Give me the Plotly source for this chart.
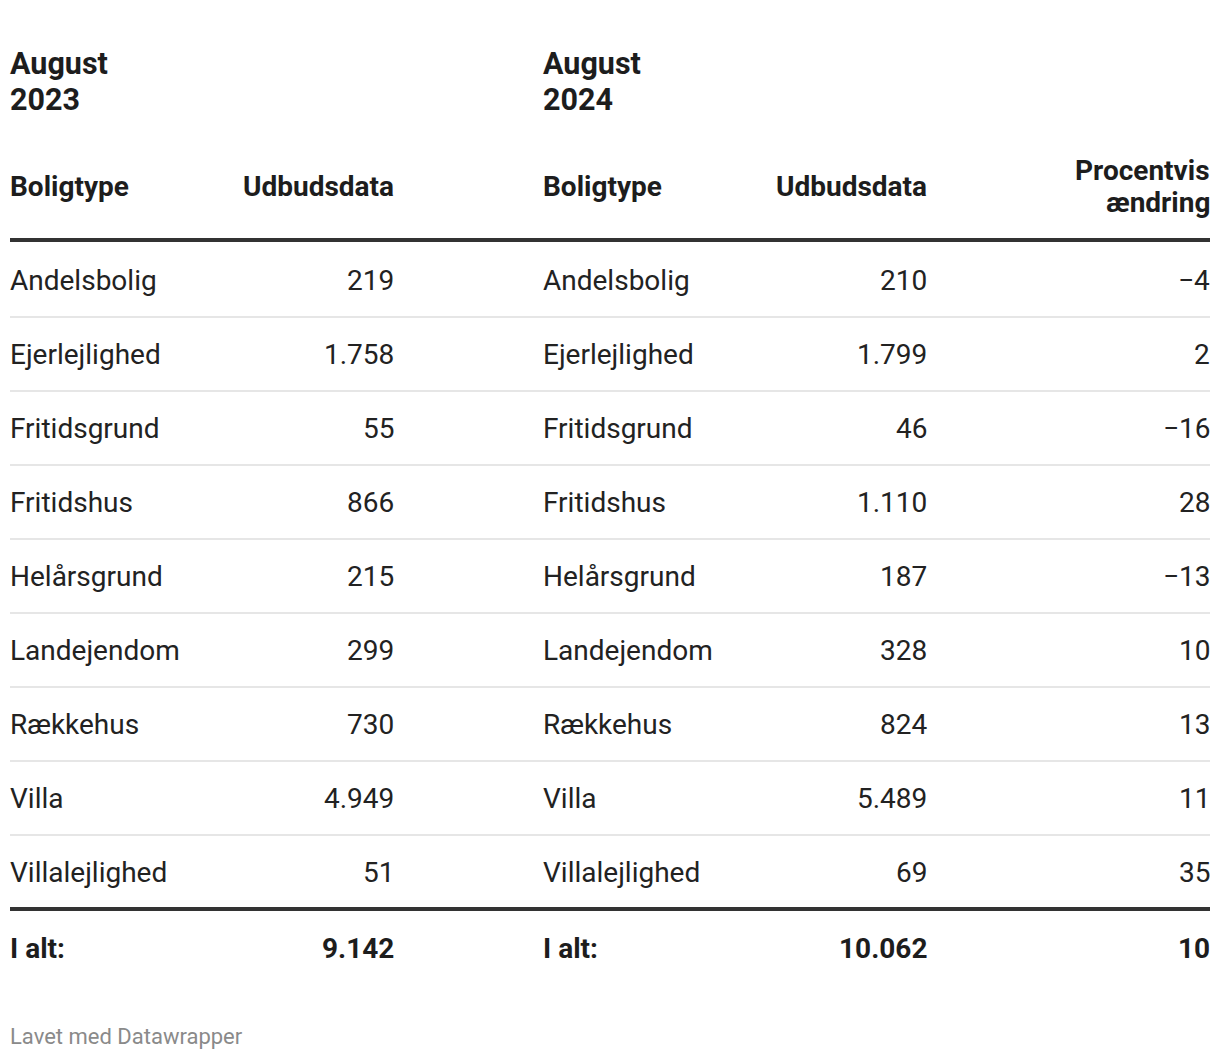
import plotly.graph_objects as go

# ---- data ----
boligtyper = ["Andelsbolig", "Ejerlejlighed", "Fritidsgrund", "Fritidshus", "Helårsgrund",
              "Landejendom", "Rækkehus", "Villa", "Villalejlighed"]
udbud_2023 = [219, 1758, 55, 866, 215, 299, 730, 4949, 51]
udbud_2024 = [210, 1799, 46, 1110, 187, 328, 824, 5489, 69]
pct_change = [-4, 2, -16, 28, -13, 10, 13, 11, 35]
total_2023 = 9142
total_2024 = 10062
total_pct = 10
group_titles = [["August", "2023"], ["August", "2024"]]
col_headers = [["Boligtype"], ["Udbudsdata"], ["Boligtype"], ["Udbudsdata"], ["Procentvis", "ændring"]]
total_label = "I alt:"
footer = "Lavet med Datawrapper"

def fmt_num(v):
    s = f"{abs(v):,}".replace(",", ".")
    return ("\u2212" if v < 0 else "") + s

# ---- layout geometry ----
W, H = 1220, 1060
LEFT, RIGHT = 10, 1210
PAD = 2  # annotation inner padding compensation
col_x = [10, 394, 543, 927, 1210]
col_anchor = ["left", "right", "left", "right", "right"]
title_y = 81
title_gap = 36
header_y = 186
header_gap = 32
header_line_y = 240
row0_y = 280
row_step = 74
font = "Roboto, Arial, sans-serif"
dark = "#1d1d1d"
body = "#222222"

def ax(j):
    return col_x[j] - PAD if col_anchor[j] == "left" else col_x[j] + PAD

ann = []
shapes = []

for i, lines in enumerate(group_titles):
    k = len(lines)
    for li, t in enumerate(lines):
        y = title_y + (li - (k - 1) / 2) * title_gap
        ann.append(dict(x=ax(2 * i), y=y, text=f"<b>{t}</b>", xanchor="left", yanchor="middle",
                        font=dict(family=font, size=30.5, color=dark)))

for j, lines in enumerate(col_headers):
    k = len(lines)
    for li, h in enumerate(lines):
        y = header_y + (li - (k - 1) / 2) * header_gap
        ann.append(dict(x=ax(j), y=y, text=f"<b>{h}</b>", xanchor=col_anchor[j], yanchor="middle",
                        font=dict(family=font, size=28, color=dark)))

shapes.append(dict(type="line", x0=LEFT, x1=RIGHT, y0=header_line_y, y1=header_line_y,
                   line=dict(color="#333333", width=4)))

n = len(boligtyper)
for i in range(n):
    y = row0_y + i * row_step
    vals = [boligtyper[i], fmt_num(udbud_2023[i]), boligtyper[i], fmt_num(udbud_2024[i]), fmt_num(pct_change[i])]
    for j, v in enumerate(vals):
        ann.append(dict(x=ax(j), y=y, text=v, xanchor=col_anchor[j], yanchor="middle",
                        font=dict(family=font, size=28, color=body)))
    if i < n - 1:
        ys = y + row_step / 2
        shapes.append(dict(type="line", x0=LEFT, x1=RIGHT, y0=ys, y1=ys,
                           line=dict(color="#e6e6e6", width=2)))

bottom_line_y = row0_y + (n - 1) * row_step + 37
shapes.append(dict(type="line", x0=LEFT, x1=RIGHT, y0=bottom_line_y, y1=bottom_line_y,
                   line=dict(color="#333333", width=4)))

total_y = bottom_line_y + 39
tvals = [total_label, fmt_num(total_2023), total_label, fmt_num(total_2024), fmt_num(total_pct)]
for j, v in enumerate(tvals):
    ann.append(dict(x=ax(j), y=total_y, text=f"<b>{v}</b>", xanchor=col_anchor[j], yanchor="middle",
                    font=dict(family=font, size=28, color=dark)))

ann.append(dict(x=LEFT - PAD, y=1036, text=footer, xanchor="left", yanchor="middle",
                font=dict(family=font, size=22, color="#8a8a8a")))

for a in ann:
    a.update(xref="x", yref="y", showarrow=False)

fig = go.Figure()
fig.add_trace(go.Scatter(x=[0, W], y=[0, H], mode="markers", marker=dict(opacity=0),
                         hoverinfo="skip", showlegend=False))
fig.update_layout(
    width=W, height=H, margin=dict(l=0, r=0, t=0, b=0),
    paper_bgcolor="white", plot_bgcolor="white",
    xaxis=dict(range=[0, W], visible=False, fixedrange=True),
    yaxis=dict(range=[H, 0], visible=False, fixedrange=True),
    annotations=ann, shapes=shapes,
)
fig.write_html("out.html", config={"displayModeBar": False},
               post_script="document.body.style.margin='0';document.body.style.overflow='hidden';")
